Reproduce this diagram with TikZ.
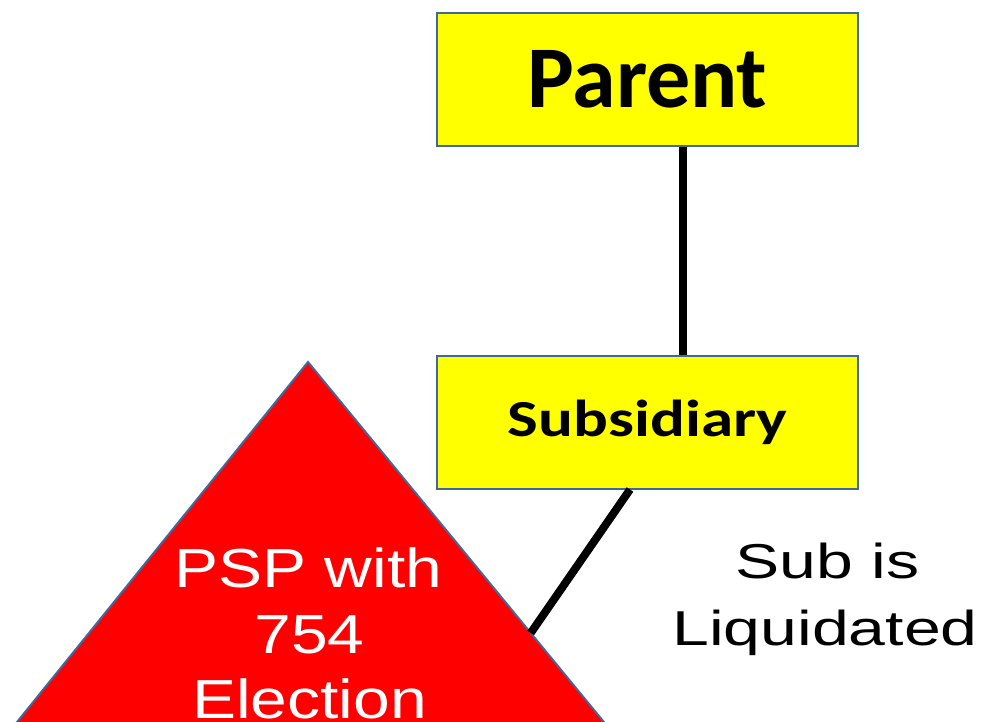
\documentclass[tikz,border=0pt]{standalone}
\usepackage{fontspec}
\setmainfont{Liberation Sans}
\newfontfamily\boxfont[FakeStretch=1.0]{Carlito}
\newfontfamily\boxfontwide[FakeStretch=1.25]{Carlito}
\newfontfamily\psplabel[FakeStretch=1.2]{Liberation Sans}
\newfontfamily\sublabel[FakeStretch=1.35]{Liberation Sans}
\usetikzlibrary{calc}
\definecolor{boxyellow}{HTML}{FFFF00}
\definecolor{edgeblue}{HTML}{41689A}
\definecolor{pspred}{HTML}{FF0000}
\tikzset{
  entity/.style={draw=edgeblue, line width=2pt, fill=boxyellow,
    minimum width=421pt, minimum height=133pt, inner sep=0pt},
  link/.style={draw=black, line width=8pt},
  psptext/.style={text=white, anchor=base, inner sep=0pt,
    font=\psplabel\fontsize{55}{65}\selectfont},
  subtext/.style={text=black, anchor=base, inner sep=0pt,
    font=\sublabel\fontsize{49}{67}\selectfont}
}
\begin{document}
\begin{tikzpicture}[x=1pt, y=-1pt]
  \clip (0,0) rectangle (989,721);
  \fill[white] (0,0) rectangle (989,721);

  % the PSP triangle, running past the lower edge
  \coordinate (apex) at (308,362);
  \coordinate (baseL) at (-46,800);
  \coordinate (baseR) at (668,800);
  \draw[draw=edgeblue, line width=2pt, fill=pspred, line join=miter]
    (baseL) -- (apex) -- (baseR) -- cycle;
  \coordinate (pspedge) at ($(apex)!0.6187!(baseR)$);

  % entity boxes
  \node[entity] (parent) at (647.5,79.5)
    {\boxfont\fontsize{88}{100}\selectfont\bfseries Parent};
  \node[entity] (sub) at (647.5,422)
    {\boxfontwide\fontsize{52}{60}\selectfont\bfseries Subsidiary};

  % ownership links
  \coordinate (ptop) at ([xshift=35.5pt]parent.south);
  \draw[link] (ptop) -- (ptop |- sub.north);
  \coordinate (sbot) at ([xshift=-17.5pt]sub.south);
  \draw[link] (sbot) -- (pspedge);

  % triangle label
  \node[psptext] (psp1) at (308.5,587) {PSP with};
  \node[psptext] (psp2) at (309.5,653) {754};
  \node[psptext] (psp3) at (309.5,718) {Election};

  % liquidation note
  \node[subtext] (note1) at (827.5,578) {Sub is};
  \node[subtext] (note2) at (825,645) {Liquidated};
\end{tikzpicture}
\end{document}
